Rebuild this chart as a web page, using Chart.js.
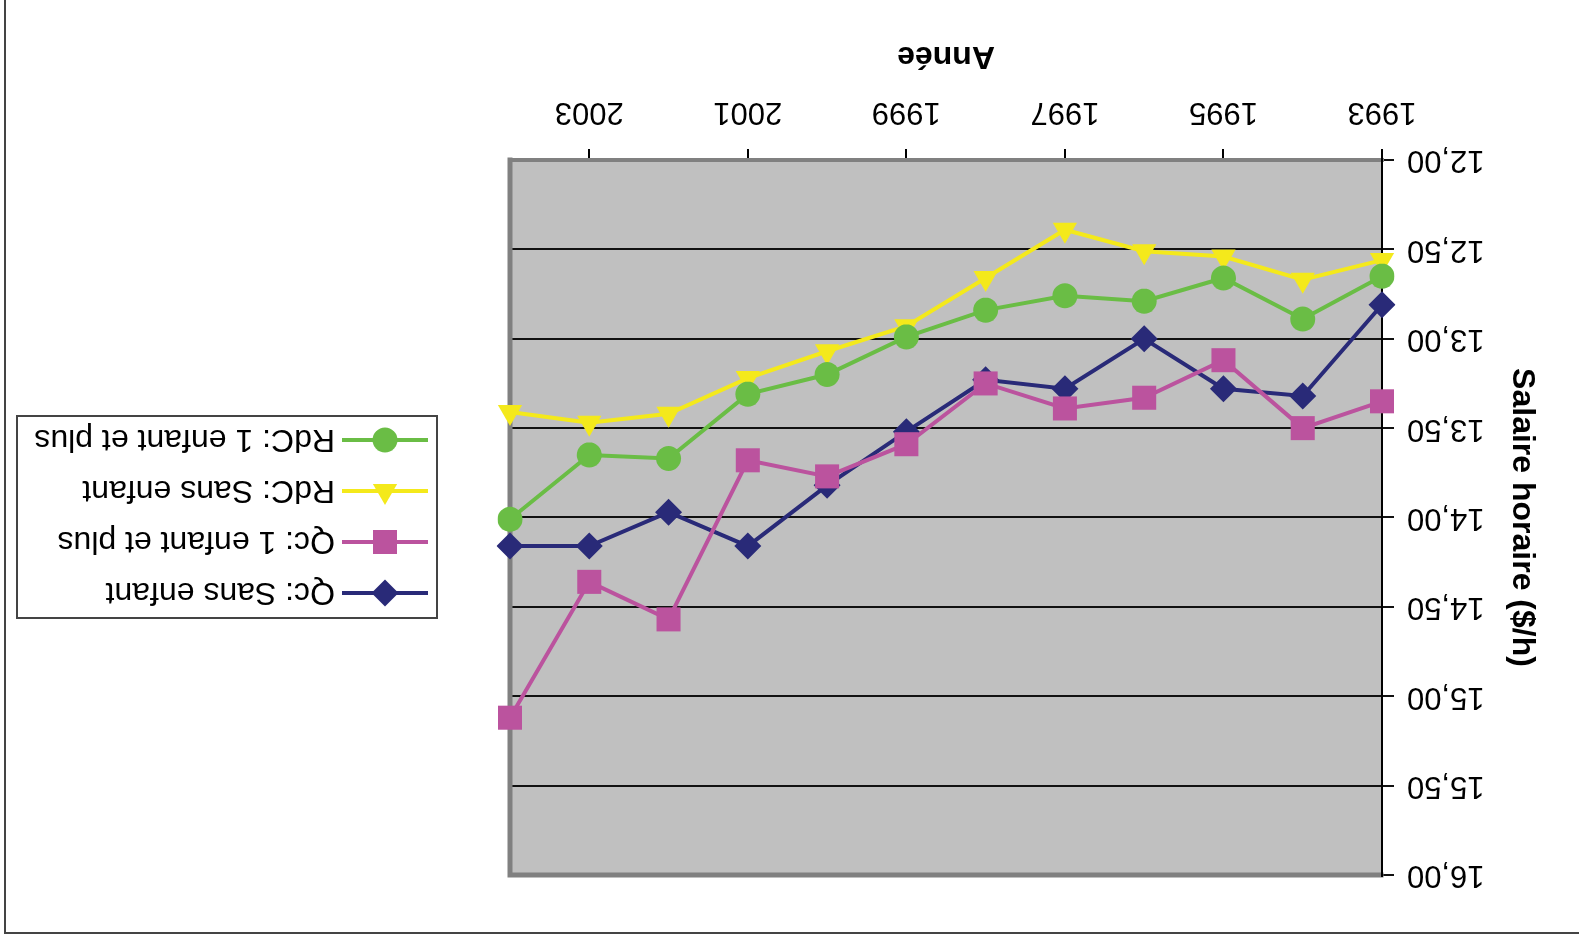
<!DOCTYPE html>
<html>
<head>
<meta charset="utf-8">
<script src="https://cdn.jsdelivr.net/npm/chart.js@4"></script>
<style>
  html, body { margin: 0; padding: 0; background: #fff; overflow: hidden; }
  #wrap { width: 1579px; height: 941px; transform: rotate(180deg); }
</style>
</head>
<body>
<div id="wrap"><canvas id="myChart" width="1579" height="941"></canvas></div>
<script>
// data read from the (upside-down) picture
const years = ["1993", "1994", "1995", "1996", "1997", "1998", "1999", "2000", "2001", "2002", "2003", "2004"];
const xTickLabels = ["1993", "1995", "1997", "1999", "2001", "2003"];
const qcSansEnfant = [12.81, 13.32, 13.28, 13.00, 13.28, 13.23, 13.52, 13.82, 14.16, 13.97, 14.16, 14.16];
const qcUnEnfant = [13.35, 13.50, 13.12, 13.33, 13.39, 13.25, 13.59, 13.77, 13.68, 14.57, 14.36, 15.12];
const rdcSansEnfant = [12.56, 12.67, 12.54, 12.51, 12.39, 12.66, 12.93, 13.07, 13.22, 13.42, 13.47, 13.41];
const rdcUnEnfant = [12.65, 12.89, 12.66, 12.79, 12.76, 12.84, 12.99, 13.20, 13.31, 13.67, 13.65, 14.01];

const FONT = "'Liberation Sans', Arial, sans-serif";

function serie(label, data, color, style, radius, order) {
  return {
    label: label,
    data: data,
    borderColor: color,
    backgroundColor: color,
    borderWidth: 4,
    pointStyle: style,
    pointRadius: radius,
    pointHoverRadius: radius,
    pointBackgroundColor: color,
    pointBorderColor: color,
    pointBorderWidth: 0,
    tension: 0,
    order: order,
  };
}

// plot area fill, frame and gray plot border
const excelLook = {
  id: "excelLook",
  beforeDraw(chart) {
    const { ctx, chartArea: a } = chart;
    ctx.save();
    ctx.fillStyle = "#fff";
    ctx.fillRect(0, 0, chart.width, chart.height);
    ctx.fillStyle = "#c0c0c0";
    ctx.fillRect(a.left, a.top, a.right - a.left, a.bottom - a.top);
    ctx.strokeStyle = "#444";
    ctx.lineWidth = 2;
    ctx.strokeRect(-10, 8, 1584, 960);
    ctx.restore();
  },
  beforeDatasetsDraw(chart) {
    const { ctx, chartArea: a } = chart;
    ctx.save();
    ctx.strokeStyle = "#808080";
    ctx.lineCap = "square";
    ctx.lineWidth = 5;
    ctx.beginPath();
    ctx.moveTo(a.left + 1, a.top);
    ctx.lineTo(a.right, a.top);
    ctx.lineTo(a.right, a.bottom);
    ctx.stroke();
    ctx.lineWidth = 4;
    ctx.beginPath();
    ctx.moveTo(a.left + 1, a.bottom);
    ctx.lineTo(a.right, a.bottom);
    ctx.stroke();
    ctx.strokeStyle = "#000";
    ctx.lineWidth = 2;
    ctx.lineCap = "butt";
    ctx.beginPath();
    ctx.moveTo(a.left, a.top - 2);
    ctx.lineTo(a.left, a.bottom + 2);
    ctx.stroke();
    ctx.restore();
  },
  afterDraw(chart) {
    // legend box
    const ctx = chart.ctx;
    const box = { x: 1142, y: 323, w: 420, h: 202 };
    ctx.save();
    ctx.fillStyle = "#fff";
    ctx.fillRect(box.x, box.y, box.w, box.h);
    ctx.strokeStyle = "#444";
    ctx.lineWidth = 2;
    ctx.strokeRect(box.x, box.y, box.w, box.h);
    chart.data.datasets.forEach((ds, i) => {
      const y = 348 + i * 51;
      ctx.strokeStyle = ds.borderColor;
      ctx.lineWidth = 4;
      ctx.beginPath();
      ctx.moveTo(1151, y);
      ctx.lineTo(1237, y);
      ctx.stroke();
      ctx.fillStyle = ds.pointBackgroundColor;
      Chart.helpers.drawPoint(ctx, {
        pointStyle: ds.pointStyle,
        radius: ds.pointRadius,
        rotation: 0,
        borderWidth: 0,
      }, 1194, y);
      ctx.fillStyle = "#000";
      ctx.font = "32px " + FONT;
      ctx.textAlign = "left";
      ctx.textBaseline = "middle";
      ctx.fillText(ds.label, 1244, y + 1);
    });
    ctx.restore();
  },
};

new Chart(document.getElementById("myChart"), {
  type: "line",
  data: {
    labels: years,
    datasets: [
      serie("Qc: Sans enfant", qcSansEnfant, "#292a78", "rectRot", 13.5, 3),
      serie("Qc: 1 enfant et plus", qcUnEnfant, "#bb539e", "rect", 17, 2),
      serie("RdC: Sans enfant", rdcSansEnfant, "#f4e91b", "triangle", 14, 1),
      serie("RdC: 1 enfant et plus", rdcUnEnfant, "#6abd45", "circle", 12.5, 0),
    ],
  },
  options: {
    responsive: false,
    animation: false,
    layout: { padding: { left: 34, right: 510, top: 66, bottom: 33 } },
    plugins: {
      legend: { display: false },
      tooltip: { enabled: false },
    },
    scales: {
      x: {
        offset: false,
        afterFit: (s) => { s.height = 127; },
        grid: {
          offset: false,
          drawOnChartArea: false,
          drawTicks: true,
          tickLength: 11,
          lineWidth: 2,
          color: (c) => (xTickLabels.includes(years[c.index]) ? "#000" : "rgba(0,0,0,0)"),
        },
        border: { color: "#808080", width: 4 },
        ticks: {
          autoSkip: false,
          maxRotation: 0,
          padding: 19,
          color: "#000",
          font: { family: FONT, size: 31 },
          callback: (v, i) => (xTickLabels.includes(years[i]) ? years[i] : ""),
        },
        title: {
          display: true,
          text: "Année",
          color: "#000",
          font: { family: FONT, size: 32, weight: "bold" },
        },
      },
      y: {
        min: 12,
        max: 16,
        afterFit: (s) => { s.width = 163; },
        grid: { color: "#111", lineWidth: 2, tickLength: 12 },
        border: { color: "#000", width: 2 },
        ticks: {
          stepSize: 0.5,
          padding: 13,
          color: "#000",
          font: { family: FONT, size: 31 },
          callback: (v) => Number(v).toFixed(2).replace(".", ","),
        },
        title: {
          display: true,
          text: "Salaire horaire ($/h)",
          color: "#000",
          font: { family: FONT, size: 32, weight: "bold" },
        },
      },
    },
  },
  plugins: [excelLook],
});
</script>
</body>
</html>
